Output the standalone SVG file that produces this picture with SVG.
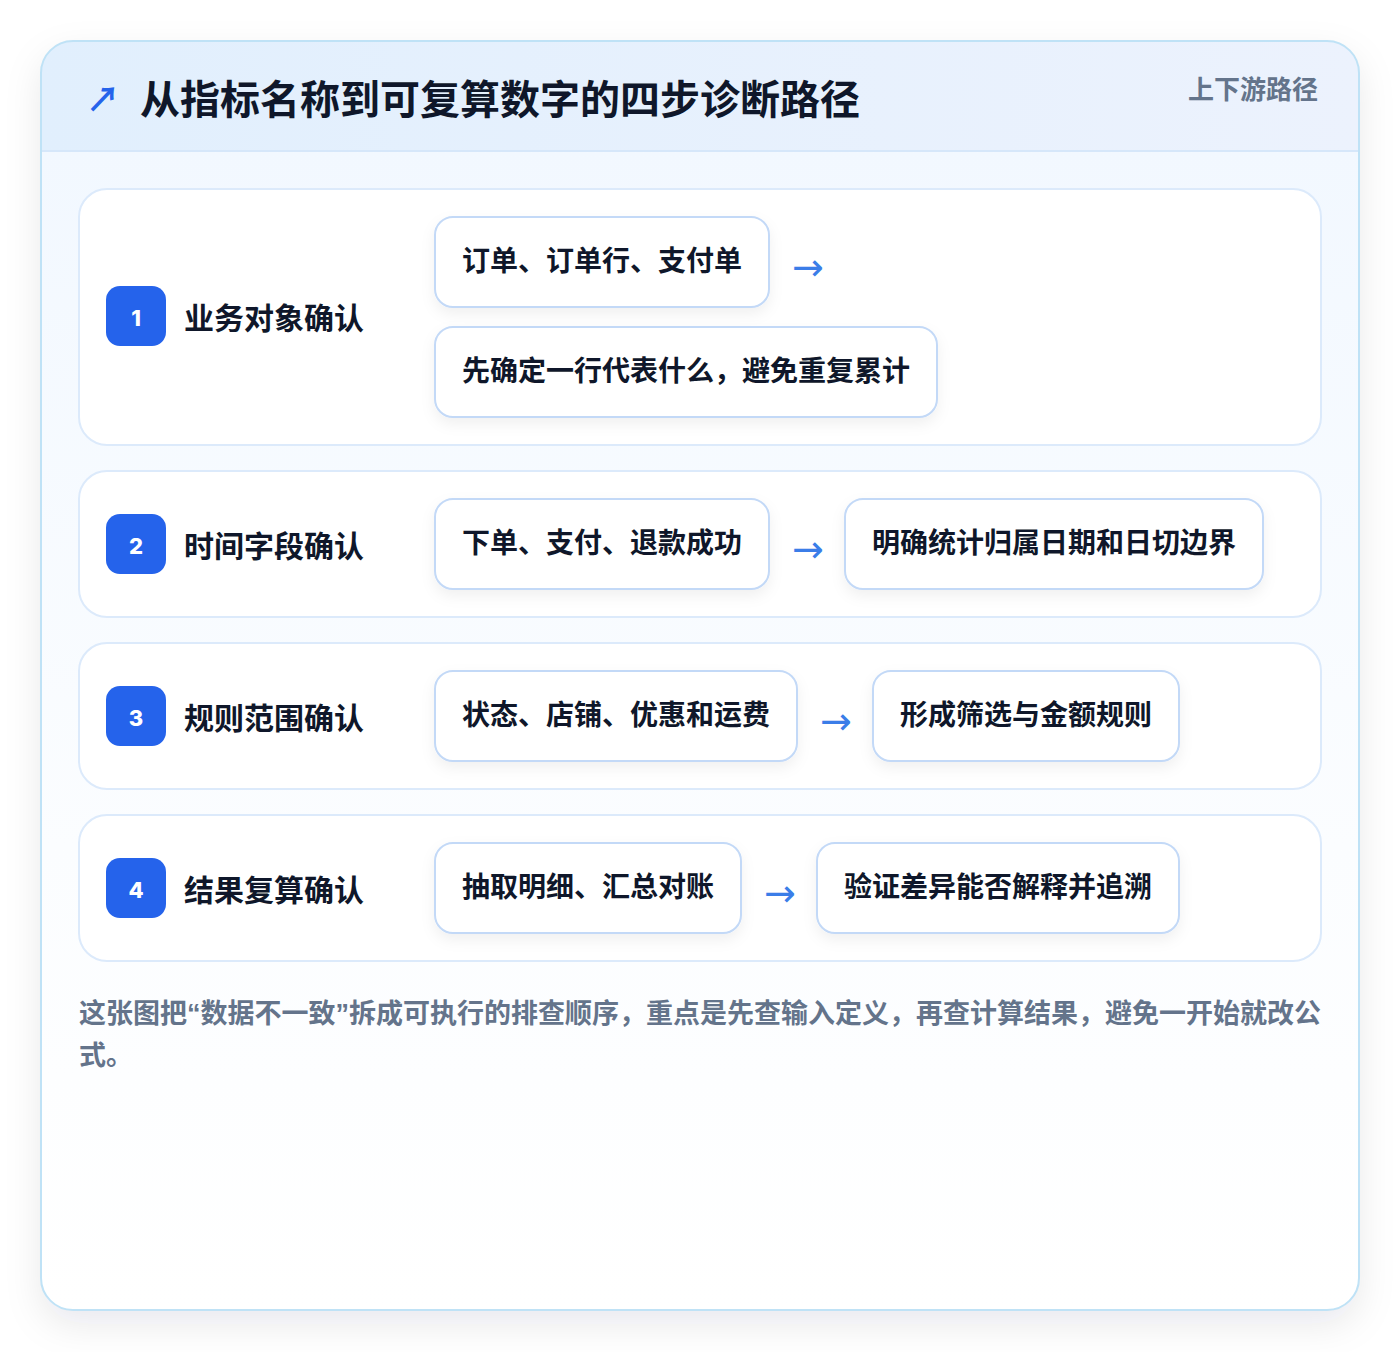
<svg xmlns="http://www.w3.org/2000/svg" width="1400" height="1352" viewBox="0 0 1400 1352">
<defs>
<linearGradient id="hdr" x1="0" y1="0" x2="1" y2="0"><stop offset="0" stop-color="#e1effd"/><stop offset="1" stop-color="#ecf2fd"/></linearGradient>
<linearGradient id="body" x1="0" y1="0" x2="0" y2="1"><stop offset="0" stop-color="#f2f8ff"/><stop offset="0.6" stop-color="#fbfdff"/><stop offset="1" stop-color="#ffffff"/></linearGradient>
<filter id="cardShadow" x="-10%" y="-10%" width="120%" height="125%"><feDropShadow dx="0" dy="14" stdDeviation="18" flood-color="#0f172a" flood-opacity="0.09"/></filter>
<filter id="boxShadow" x="-10%" y="-20%" width="120%" height="160%"><feDropShadow dx="0" dy="6" stdDeviation="7" flood-color="#0f172a" flood-opacity="0.06"/></filter>
<clipPath id="cardClip"><rect x="41" y="41" width="1318" height="1269" rx="32"/></clipPath>
</defs>
<style>
.t{font-family:"Noto Sans CJK SC","Noto Sans",sans-serif;font-weight:700}
.title{font-size:40px;fill:#0f172a}
.tag{font-size:26px;fill:#64748b}
.step{fill:#ffffff;stroke:#dceafb;stroke-width:2}
.badge{fill:#2563eb}
.num{font-size:22px;fill:#ffffff;font-family:"Inter","Noto Sans",sans-serif;font-weight:800}
.lbl{font-size:30px;fill:#0f172a}
.box{fill:#ffffff;stroke:#c3d9f7;stroke-width:2}
.bt{font-size:28px;fill:#0f172a}
.arr{font-size:38px;fill:#3b7de8;font-family:"DejaVu Sans",sans-serif}
.note{font-size:27px;fill:#64748b}
.q{font-family:"Liberation Sans",sans-serif}
</style>
<rect width="1400" height="1352" fill="#ffffff"/>
<g id="card">
<rect x="41" y="41" width="1318" height="1269" rx="32" fill="#ffffff" filter="url(#cardShadow)"/>
<g clip-path="url(#cardClip)">
<rect x="41" y="151" width="1318" height="1159" fill="url(#body)"/>
<rect x="41" y="41" width="1318" height="110" fill="url(#hdr)"/>
<line x1="41" y1="151" x2="1359" y2="151" stroke="#d6e7fa" stroke-width="2"/>
</g>
<rect x="41" y="41" width="1318" height="1269" rx="32" fill="none" stroke="#bfe2f6" stroke-width="2"/>
</g>
<g id="header">
<text x="86" y="112" class="t" style="font-size:34px;fill:#2563eb">↗</text>
<text x="140" y="114" class="t title">从指标名称到可复算数字的四步诊断路径</text>
<text x="1318" y="99" class="t tag" text-anchor="end">上下游路径</text>
</g>
<g id="step1">
<rect x="79" y="189" width="1242" height="256" rx="28" class="step"/>
<rect x="106" y="286" width="60" height="60" rx="14" class="badge"/>
<text x="136" y="326" class="num" text-anchor="middle">1</text>
<text x="184" y="329" class="t lbl">业务对象确认</text>
</g>
<g id="step1a">
<rect x="435" y="217" width="334" height="90" rx="18" class="box" filter="url(#boxShadow)"/>
<text x="462" y="271" class="t bt">订单、订单行、支付单</text>
</g>
<g id="step1b">
<rect x="435" y="327" width="502" height="90" rx="18" class="box" filter="url(#boxShadow)"/>
<text x="462" y="381" class="t bt">先确定一行代表什么，避免重复累计</text>
</g>
<g id="step2">
<rect x="79" y="471" width="1242" height="146" rx="28" class="step"/>
<rect x="106" y="514" width="60" height="60" rx="14" class="badge"/>
<text x="136" y="554" class="num" text-anchor="middle">2</text>
<text x="184" y="557" class="t lbl">时间字段确认</text>
</g>
<g id="step2a">
<rect x="435" y="499" width="334" height="90" rx="18" class="box" filter="url(#boxShadow)"/>
<text x="462" y="553" class="t bt">下单、支付、退款成功</text>
</g>
<g id="step2b">
<rect x="845" y="499" width="418" height="90" rx="18" class="box" filter="url(#boxShadow)"/>
<text x="872" y="553" class="t bt">明确统计归属日期和日切边界</text>
</g>
<g id="step3">
<rect x="79" y="643" width="1242" height="146" rx="28" class="step"/>
<rect x="106" y="686" width="60" height="60" rx="14" class="badge"/>
<text x="136" y="726" class="num" text-anchor="middle">3</text>
<text x="184" y="729" class="t lbl">规则范围确认</text>
</g>
<g id="step3a">
<rect x="435" y="671" width="362" height="90" rx="18" class="box" filter="url(#boxShadow)"/>
<text x="462" y="725" class="t bt">状态、店铺、优惠和运费</text>
</g>
<g id="step3b">
<rect x="873" y="671" width="306" height="90" rx="18" class="box" filter="url(#boxShadow)"/>
<text x="900" y="725" class="t bt">形成筛选与金额规则</text>
</g>
<g id="step4">
<rect x="79" y="815" width="1242" height="146" rx="28" class="step"/>
<rect x="106" y="858" width="60" height="60" rx="14" class="badge"/>
<text x="136" y="898" class="num" text-anchor="middle">4</text>
<text x="184" y="901" class="t lbl">结果复算确认</text>
</g>
<g id="step4a">
<rect x="435" y="843" width="306" height="90" rx="18" class="box" filter="url(#boxShadow)"/>
<text x="462" y="897" class="t bt">抽取明细、汇总对账</text>
</g>
<g id="step4b">
<rect x="817" y="843" width="362" height="90" rx="18" class="box" filter="url(#boxShadow)"/>
<text x="844" y="897" class="t bt">验证差异能否解释并追溯</text>
</g>
<g id="connectors">
<text x="808" y="280" class="arr" text-anchor="middle">→</text>
<text x="808" y="562" class="arr" text-anchor="middle">→</text>
<text x="836" y="734" class="arr" text-anchor="middle">→</text>
<text x="780" y="906" class="arr" text-anchor="middle">→</text>
</g>
<g id="note">
<text x="79" y="1023" class="t note">这张图把<tspan class="q">“</tspan>数据不一致<tspan class="q">”</tspan>拆成可执行的排查顺序，重点是先查输入定义，再查计算结果，避免一开始就改公</text>
<text x="79" y="1065" class="t note">式。</text>
</g>
</svg>
